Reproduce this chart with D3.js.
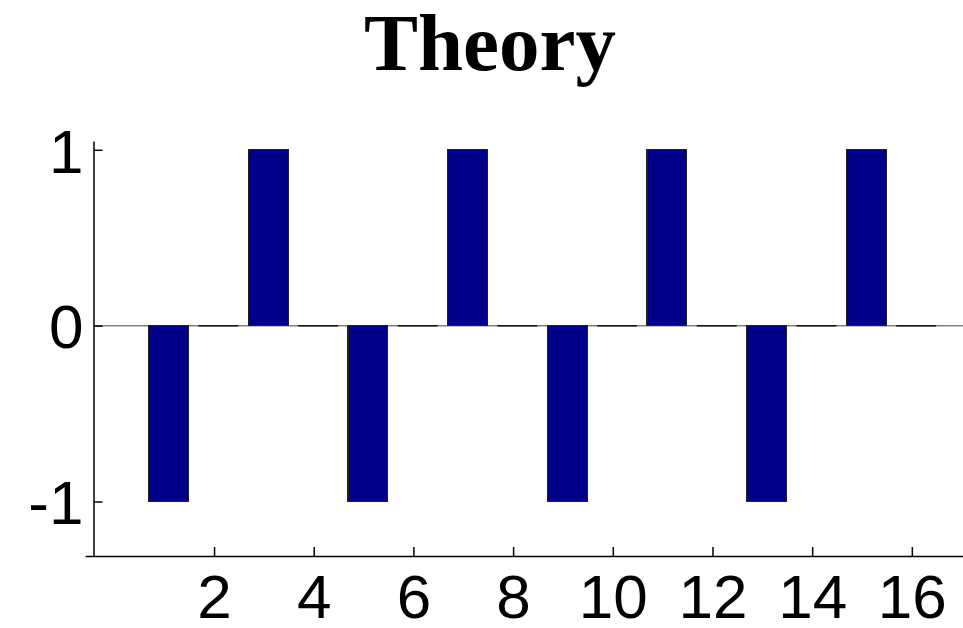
<!DOCTYPE html>
<html>
<head>
<meta charset="utf-8">
<script src="https://cdn.jsdelivr.net/npm/d3@7"></script>
<style>
  html, body { margin: 0; padding: 0; background: #fff; }
  svg { display: block; }
</style>
</head>
<body>
<svg id="chart" width="963" height="628"></svg>
<script>
// Bar data
const positions = [1, 2, 3, 4, 5, 6, 7, 8, 9, 10, 11, 12, 13, 14, 15, 16];
const values = [-1, 0, 1, 0, -1, 0, 1, 0, -1, 0, 1, 0, -1, 0, 1, 0];
const xTicks = [2, 4, 6, 8, 10, 12, 14, 16];
const yTicks = [-1, 0, 1];
const titleText = "Theory";

const svg = d3.select("#chart");

const x = d3.scaleLinear().domain([-0.575, 16.94]).range([90, 963]);
const y = d3.scaleLinear().domain([-1.31, 1.05]).range([556, 141]);
const barW = 0.8;
const bars = positions.map((p, i) => ({ p, v: values[i] }));

// Title
svg.append("text")
  .attr("x", 490).attr("y", 70)
  .attr("text-anchor", "middle")
  .attr("font-family", "'Liberation Serif', 'Times New Roman', serif")
  .attr("font-weight", "bold")
  .attr("font-size", 81)
  .attr("fill", "#000")
  .text(titleText);

// Baseline at zero
svg.append("line")
  .attr("x1", x(-0.5)).attr("x2", 963)
  .attr("y1", y(0)).attr("y2", y(0))
  .attr("stroke", "#808080").attr("stroke-width", 1.5);

// Bars with non-zero height
svg.append("g").selectAll("rect")
  .data(bars.filter(d => d.v !== 0))
  .join("rect")
  .attr("x", d => x(d.p - barW / 2))
  .attr("width", d => x(d.p + barW / 2) - x(d.p - barW / 2))
  .attr("y", d => y(Math.max(0, d.v)))
  .attr("height", d => Math.abs(y(d.v) - y(0)))
  .attr("fill", "#00008B")
  .attr("stroke", "#222")
  .attr("stroke-width", 1.2)
  .attr("shape-rendering", "crispEdges");

// Zero-height bars show only their edge
svg.append("g").selectAll("line")
  .data(bars.filter(d => d.v === 0))
  .join("line")
  .attr("x1", d => x(d.p - barW / 2))
  .attr("x2", d => x(d.p + barW / 2))
  .attr("y1", d => y(d.v)).attr("y2", d => y(d.v))
  .attr("stroke", "#111")
  .attr("stroke-width", 1.5);

// X axis (ticks sit a few pixels left of bar centres)
const xAxis = svg.append("g")
  .attr("transform", `translate(-4.3, ${y.range()[0]})`)
  .call(d3.axisBottom(x).tickValues(xTicks).tickSizeInner(-9).tickSizeOuter(0).tickPadding(18));
xAxis.select(".domain").attr("d", `M90,0.5H${963 + 4.3}`);
xAxis.selectAll("line").attr("stroke", "#000").attr("stroke-width", 1.5);
xAxis.select(".domain").attr("stroke", "#000").attr("stroke-width", 1.5);
xAxis.selectAll("text")
  .attr("font-family", "'Liberation Sans', Arial, sans-serif")
  .attr("font-size", 62)
  .attr("fill", "#000")
  .attr("dy", "0.71em");

// Y axis
const yAxis = svg.append("g")
  .attr("transform", "translate(93.5,0)")
  .call(d3.axisLeft(y).tickValues(yTicks).tickSizeInner(-9).tickSizeOuter(0)
    .tickFormat(d3.format("d")));
yAxis.select(".domain").attr("stroke", "#000").attr("stroke-width", 1.5);
yAxis.selectAll("line").attr("stroke", "#000").attr("stroke-width", 1.5);
yAxis.selectAll("text")
  .attr("font-family", "'Liberation Sans', Arial, sans-serif")
  .attr("font-size", 62)
  .attr("fill", "#000")
  .attr("x", -10)
  .attr("dy", "0.36em")
  .text(d => d < 0 ? "-" + Math.abs(d) : d);
</script>
</body>
</html>
